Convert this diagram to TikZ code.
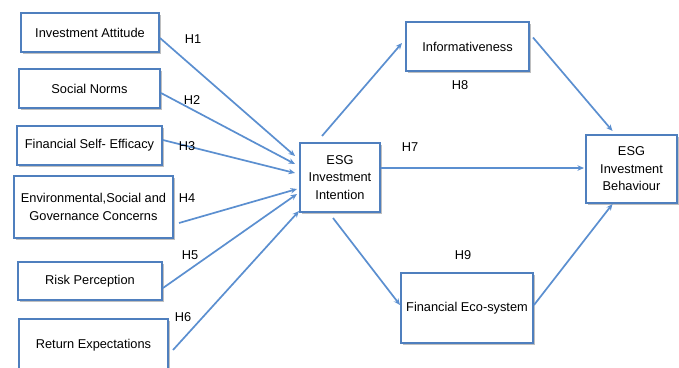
\documentclass[tikz,border=0pt]{standalone}
\usepackage{fontspec}
\setmainfont{Liberation Sans}
\usetikzlibrary{arrows.meta,shadows}
\definecolor{boxblue}{HTML}{4F7FBE}
\definecolor{linkblue}{HTML}{5B8FD0}
\begin{document}
\begin{tikzpicture}[x=1pt,y=-1pt,
  box/.style={draw=boxblue, line width=2pt, fill=white, align=center,
    inner sep=0pt, font=\fontsize{12.8}{17.5}\selectfont,
    drop shadow={shadow xshift=1.5pt, shadow yshift=-1.5pt, fill=black, opacity=0.25}},
  link/.style={draw=linkblue, line width=1.7pt, -{Stealth[length=6.5pt,width=5.5pt]}},
  hyp/.style={font=\fontsize{12.8}{14}\selectfont, inner sep=0pt}]
\useasboundingbox (0,0) rectangle (679,367);
\clip (0,0) rectangle (679,367);
\fill[white] (0,0) rectangle (679,367);

% predictors
\node[box, minimum width=138pt, minimum height=39pt] (ia)  at (90,32.5)   {Investment Attitude};
\node[box, minimum width=141pt, minimum height=39pt] (sn)  at (89.5,88.5) {Social Norms};
\node[box, minimum width=145pt, minimum height=39pt] (fse) at (89.5,145.5) {Financial Self- Efficacy};
\node[box, minimum width=159pt, minimum height=62pt] (env) at (93.5,207)  {Environmental,Social and\\Governance Concerns};
\node[box, minimum width=144pt, minimum height=38pt] (rp)  at (90,281)    {Risk Perception};
\node[box, minimum width=149pt, minimum height=52pt] (re)  at (93.5,345)  {Return Expectations};

% intention, mediators and outcome
\node[box, minimum width=80pt,  minimum height=69pt] (esgi) at (340,177.5) {ESG\\Investment\\Intention};
\node[box, minimum width=123pt, minimum height=49pt] (inf)  at (467.5,46.5) {Informativeness};
\node[box, minimum width=91pt,  minimum height=68pt] (esgb) at (631.5,169) {ESG\\Investment\\Behaviour};
\node[box, minimum width=132pt, minimum height=70pt] (fin)  at (467,308)   {Financial Eco-system};

% paths H1--H6
\draw[link] ([shift={(0,5.5)}]ia.east)   -- ([shift={(-4,14)}]esgi.north west);
\draw[link] ([shift={(0,4.5)}]sn.east)   -- ([shift={(-4,22)}]esgi.north west);
\draw[link] ([shift={(0,-5.5)}]fse.east) -- ([shift={(-4,31)}]esgi.north west);
\draw[link] ([shift={(5,16)}]env.east)   -- ([shift={(-2,47)}]esgi.north west);
\draw[link] ([shift={(0,7)}]rp.east)     -- ([shift={(-2,52)}]esgi.north west);
\draw[link] ([shift={(4,5)}]re.east)     -- ([shift={(0,69)}]esgi.north west);

% paths H7--H9
\draw[link] ([shift={(-18,-6)}]esgi.north) -- ([shift={(-3,-3.5)}]inf.west);
\draw[link] ([shift={(3,-9)}]inf.east)    -- ([shift={(-19,-3)}]esgb.north);
\draw[link] ([shift={(0,-9.5)}]esgi.east) -- ([shift={(-1,-1)}]esgb.west);
\draw[link] ([shift={(-7,5)}]esgi.south)  -- ([shift={(0,-3)}]fin.west);
\draw[link] ([shift={(0,-3)}]fin.east)    -- ([shift={(-19,0)}]esgb.south);

% hypothesis labels
\node[hyp] (h1) at (193,39)  {H1};
\node[hyp] (h2) at (192,100) {H2};
\node[hyp] (h3) at (187,146) {H3};
\node[hyp] (h4) at (187,198) {H4};
\node[hyp] (h5) at (190,255) {H5};
\node[hyp] (h6) at (183,317) {H6};
\node[hyp] (h7) at (410,147) {H7};
\node[hyp] (h8) at (460,85)  {H8};
\node[hyp] (h9) at (463,255) {H9};
\end{tikzpicture}
\end{document}
